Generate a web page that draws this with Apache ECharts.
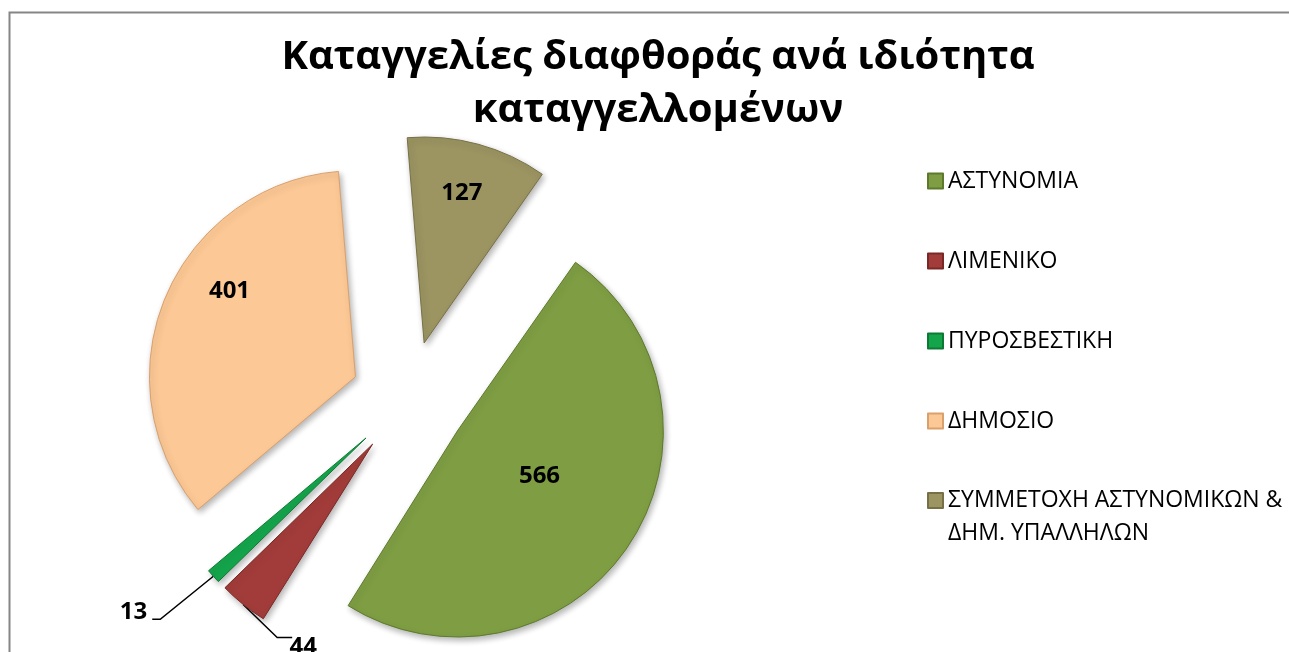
<!DOCTYPE html>
<html>
<head>
<meta charset="utf-8">
<script src="https://cdn.jsdelivr.net/npm/echarts@6/dist/echarts.min.js"></script>
<style>
  html, body { margin: 0; padding: 0; background: #fff; }
  #main { width: 1289px; height: 652px; }
</style>
</head>
<body>
<div id="main"></div>
<script>
// categories and values
var categories = ['ΑΣΤΥΝΟΜΙΑ', 'ΛΙΜΕΝΙΚΟ', 'ΠΥΡΟΣΒΕΣΤΙΚΗ', 'ΔΗΜΟΣΙΟ', 'ΣΥΜΜΕΤΟΧΗ ΑΣΤΥΝΟΜΙΚΩΝ & ΔΗΜ. ΥΠΑΛΛΗΛΩΝ'];
var values = [566, 44, 13, 401, 127];
var colors = ['#7f9e43', '#a23c3a', '#14a54b', '#fcc895', '#9c9562'];
var edges = ['#5d7a2c', '#7a2826', '#0c7a34', '#d9a06c', '#777046'];

window.onload = function () {
    var myChart = echarts.init(document.getElementById('main'));
    var font = '"Open Sans", sans-serif';

    // label nudges, excel puts the inside labels further out
    var labelShift = {
        1: [127, -11],
        4: [10, -48]
    };
    // trailing blanks push centred labels up / left
    var labelTail = {
        0: ['  \n', 26],
        1: ['\n', 14],
        2: ['\n', 14],
        3: ['         \n\n\n', 30]
    };

    var data = [];
    for (var i = 0; i < categories.length; i++) {
        var item = {
            name: categories[i],
            value: values[i],
            selected: true,
            itemStyle: {
                color: colors[i],
                borderColor: edges[i],
                borderWidth: 1,
                shadowBlur: 6,
                shadowOffsetX: 2,
                shadowOffsetY: 3,
                shadowColor: 'rgba(0,0,0,0.3)'
            },
            label: {}
        };
        if (values[i] < 100) {
            item.label.position = 'outside';
            item.labelLine = { show: true, length: 64, length2: 8 };
        }
        if (labelTail[i]) {
            item.label.formatter = '{c}' + labelTail[i][0];
            item.label.lineHeight = labelTail[i][1];
        }
        data.push(item);
    }

    var option = {
        animation: false,
        title: {
            text: 'Καταγγελίες διαφθοράς ανά ιδιότητα\nκαταγγελλομένων',
            left: 653,
            top: 26,
            textAlign: 'center',
            textStyle: {
                fontFamily: font,
                fontSize: 40,
                fontWeight: 'bold',
                color: '#000',
                lineHeight: 53
            }
        },
        legend: [{
            orient: 'vertical',
            left: 922,
            top: 164,
            itemWidth: 15,
            itemHeight: 15,
            itemGap: 56,
            icon: 'rect',
            selectedMode: false,
            textStyle: {
                fontFamily: font,
                fontSize: 23,
                color: '#000',
                lineHeight: 24
            },
            data: categories.slice(0, 4)
        }, {
            // long name wraps, first line stays level with the icon
            orient: 'vertical',
            left: 922,
            top: 446,
            itemWidth: 15,
            itemHeight: 15,
            icon: 'rect',
            selectedMode: false,
            formatter: function (name) {
                return '\n' + name.replace('& ', '&\n');
            },
            textStyle: {
                fontFamily: font,
                fontSize: 23,
                color: '#000',
                lineHeight: 33
            },
            data: categories.slice(4)
        }],
        series: [{
            name: 'Καταγγελίες',
            type: 'pie',
            center: [409, 399],
            radius: 206,
            startAngle: 55,
            clockwise: true,
            selectedMode: 'multiple',
            selectedOffset: 58,
            emphasis: { disabled: true },
            label: {
                show: true,
                position: 'inside',
                formatter: '{c}',
                fontFamily: font,
                fontSize: 24,
                lineHeight: 26,
                fontWeight: 'bold',
                color: '#000'
            },
            labelLine: {
                lineStyle: { color: '#000', width: 1.5 }
            },
            labelLayout: function (p) {
                var s = labelShift[p.dataIndex];
                if (!s) return {};
                var out = { dx: s[0], dy: s[1] };
                if (p.dataIndex === 1 && p.labelLinePoints) {
                    // drop down from the slice, then run right to the value
                    var a = p.labelLinePoints[0];
                    out.labelLinePoints = [
                        [a[0], a[1]],
                        [a[0] + 34, a[1] + 33],
                        [a[0] + 49, a[1] + 33]
                    ];
                }
                return out;
            },
            data: data
        }],
        graphic: [{
            type: 'rect',
            shape: { x: 9.5, y: 12.5, width: 1400, height: 800 },
            style: { fill: 'none', stroke: '#868686', lineWidth: 2 },
            silent: true
        }]
    };
    myChart.setOption(option);
};
</script>
</body>
</html>
